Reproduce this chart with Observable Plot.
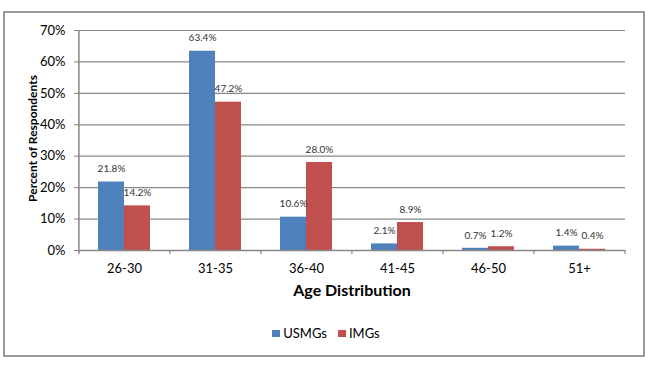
<!DOCTYPE html>
<html>
<head>
<meta charset="utf-8">
<script src="https://cdn.jsdelivr.net/npm/d3@7"></script>
<script src="https://cdn.jsdelivr.net/npm/@observablehq/plot@0.6"></script>
<style>
  html, body { margin: 0; padding: 0; background: #fff; }
  body { width: 663px; height: 371px; position: relative; overflow: hidden; font-family: Lato, "Open Sans", sans-serif; }
  #box { position: absolute; left: 3px; top: 11px; width: 638px; height: 342px; border: 2px solid #9a9a9a; box-sizing: content-box; }
  #chart { position: absolute; left: 0; top: 0; }
  #legend { position: absolute; top: 325px; left: 0; width: 652px; display: flex; justify-content: center; gap: 11px; font-size: 13px; color: #000; }
  .item { display: flex; align-items: center; gap: 3px; }
  .sw { width: 8px; height: 7px; display: inline-block; }
</style>
</head>
<body>
<div id="box"></div>
<div id="chart"></div>
<div id="legend"></div>
<script>
const categories = ["26-30", "31-35", "36-40", "41-45", "46-50", "51+"];
const series = ["USMGs", "IMGs"];
const usmgs = [21.8, 63.4, 10.6, 2.1, 0.7, 1.4];
const imgs = [14.2, 47.2, 28.0, 8.9, 1.2, 0.4];
const yTicks = [0, 10, 20, 30, 40, 50, 60, 70];
const colors = ["#4F81BD", "#C0504D"];

const W = 663, H = 310, ML = 78, MR = 38, MT = 30, MB = 60;
const padInner = 0.43;
const step = (W - ML - MR) / categories.length;
const bw = step * (1 - padInner);

const blue = categories.map((c, i) => ({cat: c, series: series[0], value: usmgs[i]}));
const red = categories.map((c, i) => ({cat: c, series: series[1], value: imgs[i]}));
const axisColor = "#878787";
const fmt = d => d.toFixed(1) + "%";

const chart = Plot.plot({
  width: W, height: H,
  marginLeft: ML, marginRight: MR, marginTop: MT, marginBottom: MB,
  style: {fontFamily: "Lato, 'Open Sans', sans-serif", fontSize: "13px", color: "#000", background: "transparent", overflow: "visible"},
  x: {domain: categories, paddingInner: padInner, paddingOuter: padInner / 2, label: null},
  y: {domain: [0, 70], label: null},
  color: {domain: series, range: colors},
  marks: [
    Plot.gridY(yTicks, {stroke: axisColor, strokeOpacity: 1, strokeWidth: 1.2}),
    Plot.axisY(yTicks, {tickSize: 4, tickPadding: 9, tickFormat: d => d + "%", label: null, stroke: axisColor, fill: "#000", fontSize: 13}),
    Plot.axisX({tickSize: 0, tickPadding: 13, label: null, fill: "#000", fontSize: 13}),
    Plot.barY(blue, {x: "cat", y: "value", fill: "series", insetRight: bw / 2}),
    Plot.barY(red, {x: "cat", y: "value", fill: "series", insetLeft: bw / 2}),
    Plot.ruleY([0], {stroke: axisColor, strokeWidth: 1.5}),
    Plot.ruleX([categories[0]], {dx: -step / 2, stroke: axisColor, strokeWidth: 1.5, insetBottom: -4}),
    Plot.ruleX(categories.slice(1), {dx: -step / 2, y1: 0, y2: 0, insetBottom: -4, stroke: axisColor, strokeWidth: 1.2}),
    Plot.ruleX(categories.slice(-1), {dx: step / 2, y1: 0, y2: 0, insetBottom: -4, stroke: axisColor, strokeWidth: 1.2}),
    Plot.text(blue, {x: "cat", y: "value", text: d => fmt(d.value), dx: -bw / 4, dy: -13, fontSize: 10, fill: "#333"}),
    Plot.text(red, {x: "cat", y: "value", text: d => fmt(d.value), dx: bw / 4, dy: -13, fontSize: 10, fill: "#333"}),
    Plot.text(["Age Distribution"], {frameAnchor: "bottom", textAnchor: "middle", lineAnchor: "middle", dy: 40, fontWeight: "bold", fontSize: 16, fill: "#000"}),
    Plot.text(["Percent of Respondents"], {frameAnchor: "left", textAnchor: "middle", lineAnchor: "middle", rotate: -90, dx: -45, dy: -2, fontWeight: "bold", fontSize: 12, fill: "#000"})
  ]
});
document.getElementById("chart").appendChild(chart);

const legend = document.getElementById("legend");
series.forEach((s, i) => {
  const item = document.createElement("span");
  item.className = "item";
  const sw = document.createElement("span");
  sw.className = "sw";
  sw.style.background = colors[i];
  const label = document.createElement("span");
  label.textContent = s;
  item.appendChild(sw);
  item.appendChild(label);
  legend.appendChild(item);
});
</script>
</body>
</html>
